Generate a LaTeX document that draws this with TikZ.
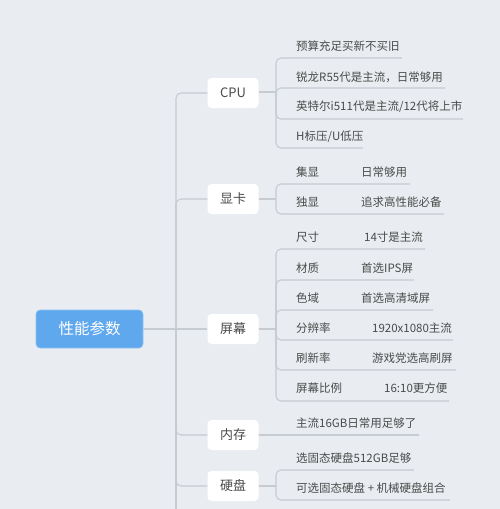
\documentclass[tikz,border=0pt]{standalone}
\usepackage{fontspec}
\setmainfont{Noto Sans CJK SC}
\definecolor{bgc}{HTML}{E9EDF1}
\definecolor{linec}{HTML}{C6CBD1}
\definecolor{rootc}{HTML}{5FA8EE}
\definecolor{txtc}{HTML}{4A4A4A}
\tikzset{
  conn/.style={draw=linec, line width=1.1pt, rounded corners=5pt},
  rootbox/.style={fill=rootc, draw=rootc!70!white, line width=0.6pt, rounded corners=4pt, minimum width=107pt, minimum height=38pt, text=white, font=\fontsize{15.5}{18}\selectfont, inner sep=0pt},
  branchbox/.style={fill=white, rounded corners=4pt, minimum width=51pt, minimum height=30pt, text=txtc, font=\fontsize{13}{15}\selectfont, inner sep=0pt},
  leaf/.style={anchor=west, text=txtc, font=\fontsize{11.5}{13}\selectfont, inner sep=0pt},
}
\begin{document}
\begin{tikzpicture}[x=1pt,y=-1pt]
\fill[bgc] (0,0) rectangle (500,509);
\useasboundingbox (0,0) rectangle (500,509);
\clip (0,0) rectangle (500,509);

% root and branches
\node[rootbox] (root) at (89.5,329) {性能参数};
\node[branchbox] (cpu) at (233,93) {CPU};
\node[branchbox] (gpu) at (233,199) {显卡};
\node[branchbox] (scr) at (233,329) {屏幕};
\node[branchbox] (mem) at (233,435) {内存};
\node[branchbox] (disk) at (233,486) {硬盘};

% trunk
\coordinate (tj) at (176,329);
\coordinate (tend) at (176,520);
\draw[conn] (root.east) -- (tj);
\draw[conn] (tj) -- (tend);
\draw[conn] (tj) |- (cpu.west);
\draw[conn] (tj) |- (gpu.west);
\draw[conn] (tj) -- (scr.west);
\draw[conn] (tj) |- (mem.west);
\draw[conn] (tj) |- (disk.west);

% CPU leaves
\coordinate (jc) at (276,92);
\draw[conn] (cpu.east|-jc) -- (jc);
\node[leaf] (c1) at (296,46) {预算充足买新不买旧};
\node[leaf] (c2) at (296,77) {锐龙R55代是主流，日常够用};
\node[leaf] (c3) at (296,107) {英特尔i511代是主流/12代将上市};
\node[leaf] (c4) at (296,137) {H标压/U低压};
\coordinate (c1e) at (402,58);
\coordinate (c2e) at (445,88);
\coordinate (c3e) at (463,119);
\coordinate (c4e) at (363,148);
\foreach \e in {c1e,c2e,c3e,c4e} \draw[conn] (jc) |- (\e);

% GPU leaves
\coordinate (jg) at (276,199);
\draw[conn] (gpu.east) -- (jg);
\node[leaf] (g1a) at (296,172) {集显};
\node[leaf] (g1b) at (361,172) {日常够用};
\node[leaf] (g2a) at (296,202) {独显};
\node[leaf] (g2b) at (361,202) {追求高性能必备};
\coordinate (g1e) at (410,184);
\coordinate (g2e) at (444,214);
\foreach \e in {g1e,g2e} \draw[conn] (jg) |- (\e);

% Screen leaves
\coordinate (js) at (276,329);
\draw[conn] (scr.east) -- (js);
\node[leaf] (s1a) at (296,237) {尺寸};
\node[leaf] (s1b) at (364,237) {14寸是主流};
\node[leaf] (s2a) at (296,268) {材质};
\node[leaf] (s2b) at (361,268) {首选IPS屏};
\node[leaf] (s3a) at (296,298) {色域};
\node[leaf] (s3b) at (361,298) {首选高清域屏};
\node[leaf] (s4a) at (296,328) {分辨率};
\node[leaf] (s4b) at (372,328) {1920x1080主流};
\node[leaf] (s5a) at (296,358) {刷新率};
\node[leaf] (s5b) at (372,358) {游戏党选高刷屏};
\node[leaf] (s6a) at (296,388) {屏幕比例};
\node[leaf] (s6b) at (384,388) {16:10更方便};
\coordinate (s1e) at (425,249);
\coordinate (s2e) at (414,280);
\coordinate (s3e) at (433,310);
\coordinate (s4e) at (453,340);
\coordinate (s5e) at (456,370);
\coordinate (s6e) at (449,401);
\foreach \e in {s1e,s2e,s3e,s4e,s5e,s6e} \draw[conn] (js) |- (\e);

% Memory leaf
\node[leaf] (m1) at (296,423) {主流16GB日常用足够了};
\coordinate (m1e) at (419,435);
\draw[conn] (mem.east) -- (m1e);

% Disk leaves
\coordinate (jd) at (276,486);
\draw[conn] (disk.east) -- (jd);
\node[leaf] (d1) at (296,458) {选固态硬盘512GB足够};
\node[leaf] (d2) at (296,488) {可选固态硬盘 + 机械硬盘组合};
\coordinate (d1e) at (414,470);
\coordinate (d2e) at (450,500);
\foreach \e in {d1e,d2e} \draw[conn] (jd) |- (\e);
\end{tikzpicture}
\end{document}
